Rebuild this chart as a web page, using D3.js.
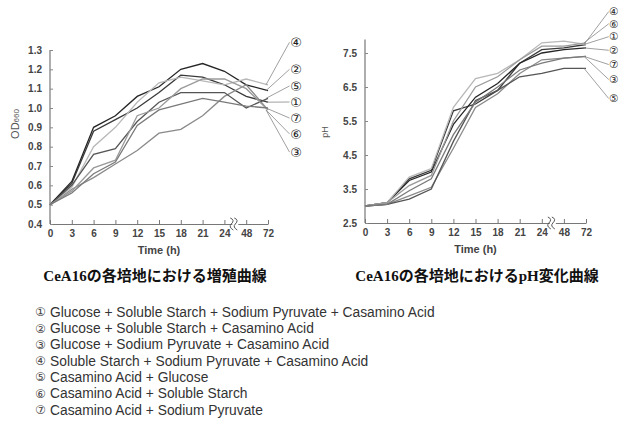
<!DOCTYPE html>
<html>
<head>
<meta charset="utf-8">
<script src="https://cdn.jsdelivr.net/npm/d3@7"></script>
<style>
  body { margin: 0; background: #fff; }
</style>
</head>
<body>
<svg id="chart" width="620" height="421"></svg>
<script>
var width = 620, height = 421;
var sansFont = '"Liberation Sans", Arial, sans-serif';
var circleFont = '"DejaVu Sans", sans-serif';

// time points (x axis categories)
var times = ['0', '3', '6', '9', '12', '15', '18', '21', '24', '48', '72'];
var seriesNames = ['①', '②', '③', '④', '⑤', '⑥', '⑦'];

// OD660 growth curves, one array per medium
var od1 = [0.50, 0.61, 0.88, 0.94, 1.00, 1.08, 1.17, 1.16, 1.12, 1.06, 1.03];
var od2 = [0.50, 0.62, 0.90, 0.96, 1.06, 1.11, 1.20, 1.23, 1.19, 1.12, 1.09];
var od3 = [0.50, 0.58, 0.64, 0.71, 0.78, 0.87, 0.89, 0.96, 1.06, 1.12, 0.99];
var od4 = [0.50, 0.59, 0.80, 0.90, 1.03, 1.13, 1.16, 1.14, 1.12, 1.15, 1.12];
var od5 = [0.50, 0.60, 0.76, 0.79, 0.93, 1.03, 1.08, 1.08, 1.08, 1.00, 1.05];
var od6 = [0.50, 0.57, 0.69, 0.73, 0.96, 1.00, 1.10, 1.15, 1.15, 1.10, 0.99];
var od7 = [0.50, 0.56, 0.66, 0.72, 0.91, 0.99, 1.02, 1.05, 1.03, 1.01, 1.00];
var odLabelAt = [1.031, 1.20, 0.772, 1.34, 1.114, 0.866, 0.948];

// pH curves
var ph1 = [3.0, 3.1, 3.80, 4.05, 5.8, 6.00, 6.4, 7.2, 7.6, 7.65, 7.75];
var ph2 = [3.0, 3.1, 3.75, 4.00, 5.4, 6.20, 6.6, 7.2, 7.5, 7.60, 7.65];
var ph3 = [3.0, 3.05, 3.30, 3.55, 4.7, 5.90, 6.3, 6.9, 7.3, 7.35, 7.40];
var ph4 = [3.0, 3.1, 3.85, 4.10, 5.9, 6.75, 6.9, 7.3, 7.8, 7.85, 7.75];
var ph5 = [3.0, 3.05, 3.20, 3.50, 4.9, 6.10, 6.4, 6.8, 6.9, 7.05, 7.05];
var ph6 = [3.0, 3.1, 3.60, 3.90, 5.5, 6.50, 6.8, 7.3, 7.7, 7.70, 7.80];
var ph7 = [3.0, 3.05, 3.45, 3.80, 5.1, 6.05, 6.5, 7.0, 7.2, 7.35, 7.40];
var phLabelAt = [7.98, 7.58, 6.72, 8.72, 6.16, 8.36, 7.16];

var odTicks = [0.4, 0.5, 0.6, 0.7, 0.8, 0.9, 1.0, 1.1, 1.2, 1.3];
var phTicks = [2.5, 3.5, 4.5, 5.5, 6.5, 7.5];

var titles = ['CeA16の各培地における増殖曲線', 'CeA16の各培地におけるpH変化曲線'];
var legendItems = [
  'Glucose + Soluble Starch + Sodium Pyruvate + Casamino Acid',
  'Glucose + Soluble Starch + Casamino Acid',
  'Glucose + Sodium Pyruvate + Casamino Acid',
  'Soluble Starch + Sodium Pyruvate + Casamino Acid',
  'Casamino Acid + Glucose',
  'Casamino Acid + Soluble Starch',
  'Casamino Acid + Sodium Pyruvate'
];

var lineColors = ['#3a3a3a', '#262626', '#8a8a8a', '#b8b8b8', '#555555', '#9a9a9a', '#7a7a7a'];

var svg = d3.select('#chart');

var drawPanel = function (opt) {
  var x = d3.scalePoint().domain(times).range([opt.x0, opt.x1]);
  var y = d3.scaleLinear().domain(opt.domain).range([opt.y0, opt.y1]);
  var g = svg.append('g');

  // axes
  var xAxis = d3.axisBottom(x).tickSize(0).tickPadding(6);
  var gx = g.append('g')
    .attr('transform', 'translate(0,' + opt.y0 + ')')
    .call(xAxis);
  gx.select('.domain').attr('stroke', '#777').attr('stroke-width', 1.2);
  gx.selectAll('.tick').append('line')
    .attr('y1', 0).attr('y2', -4).attr('stroke', '#777');
  gx.selectAll('text')
    .style('font-family', sansFont)
    .attr('font-size', 10).attr('font-weight', 'bold').attr('fill', '#444');

  var yAxis = d3.axisLeft(y).tickValues(opt.ticks).tickSize(-3).tickPadding(8)
    .tickFormat(d3.format('.1f'));
  var gy = g.append('g')
    .attr('transform', 'translate(' + opt.x0 + ',0)')
    .call(yAxis);
  gy.select('.domain').attr('stroke', '#777').attr('stroke-width', 1.2)
    .attr('d', 'M0,' + opt.y0 + 'V' + opt.y1);
  gy.selectAll('line').attr('stroke', '#888');
  gy.selectAll('text')
    .style('font-family', sansFont)
    .attr('font-size', 10).attr('font-weight', 'bold').attr('fill', '#444');

  // axis break between 24 and 48
  var bx = (x('24') + x('48')) / 2;
  g.append('rect').attr('x', bx - 3).attr('y', opt.y0 - 3).attr('width', 6).attr('height', 6)
    .attr('fill', '#fff');
  [-2, 2].forEach(function (o) {
    g.append('path')
      .attr('d', 'M' + (bx + o - 3) + ',' + (opt.y0 - 6) + 'q5,2 1,6 q-3,3 2,6')
      .attr('fill', 'none').attr('stroke', '#555').attr('stroke-width', 1);
  });

  // axis titles
  g.append('text')
    .attr('x', (opt.x0 + opt.x1) / 2).attr('y', opt.y0 + 30)
    .attr('text-anchor', 'middle').attr('font-size', 11).attr('font-weight', 'bold')
    .style('font-family', sansFont)
    .attr('fill', '#444').text('Time (h)');
  var yl = g.append('text')
    .attr('transform', 'translate(' + opt.ylabX + ',' + opt.ylabY + ') rotate(-90)')
    .attr('text-anchor', 'middle').attr('font-size', opt.ylabSize)
    .style('font-family', sansFont)
    .attr('fill', '#555');
  yl.append('tspan').text(opt.ylabel[0]);
  if (opt.ylabel[1]) {
    yl.append('tspan').attr('font-size', opt.ylabSize - 3).text(opt.ylabel[1]);
  }

  // curves
  var line = d3.line()
    .x(function (d, i) { return x(times[i]); })
    .y(function (d) { return y(d); });

  g.selectAll('path.curve')
    .data(opt.series)
    .enter()
    .append('path')
    .attr('class', 'curve')
    .attr('d', line)
    .attr('fill', 'none')
    .attr('stroke', function (d, i) { return lineColors[i]; })
    .attr('stroke-width', 1.3);

  // leader lines and circled labels
  var lx = x('72') + 28;
  opt.series.forEach(function (s, i) {
    g.append('line')
      .attr('x1', x('72') - 2).attr('y1', y(s[s.length - 1]))
      .attr('x2', lx - opt.labelSize / 2).attr('y2', y(opt.labelAt[i]))
      .attr('stroke', '#888').attr('stroke-width', 0.8);
    g.append('text')
      .attr('x', lx).attr('y', y(opt.labelAt[i]))
      .attr('dy', '0.36em').attr('text-anchor', 'middle')
      .style('font-family', circleFont)
      .attr('font-size', opt.labelSize).attr('fill', '#222')
      .text(seriesNames[i]);
  });

  // panel title
  svg.append('text')
    .attr('x', opt.titleX).attr('y', 281)
    .attr('text-anchor', 'middle')
    .style('font-family', '"Liberation Serif", "Noto Sans CJK JP", serif')
    .attr('font-size', 15).attr('font-weight', 'bold').attr('fill', '#111')
    .text(opt.title);
};

drawPanel({
  x0: 50, x1: 268, y0: 224, y1: 50,
  domain: [0.4, 1.3], ticks: odTicks,
  series: [od1, od2, od3, od4, od5, od6, od7],
  labelAt: odLabelAt, labelSize: 13,
  ylabel: ['OD', '660'], ylabX: 19, ylabY: 124, ylabSize: 11,
  title: titles[0], titleX: 155
});

drawPanel({
  x0: 365, x1: 586, y0: 223, y1: 39.4,
  domain: [2.5, 7.9], ticks: phTicks,
  series: [ph1, ph2, ph3, ph4, ph5, ph6, ph7],
  labelAt: phLabelAt, labelSize: 10.5,
  ylabel: ['pH'], ylabX: 328, ylabY: 132, ylabSize: 9,
  title: titles[1], titleX: 477
});

// legend
var legend = svg.append('g').attr('transform', 'translate(35,312)');
legend.selectAll('g')
  .data(legendItems)
  .enter()
  .append('g')
  .attr('transform', function (d, i) { return 'translate(0,' + (i * 16.3) + ')'; })
  .each(function (d, i) {
    var it = d3.select(this);
    it.append('text')
      .attr('x', 0).attr('dy', '0.35em')
      .style('font-family', circleFont)
      .attr('font-size', 12).attr('fill', '#444')
      .text(seriesNames[i]);
    it.append('text')
      .attr('x', 15).attr('dy', '0.35em')
      .style('font-family', sansFont)
      .attr('font-size', 13.8).attr('fill', '#333')
      .text(d);
  });
</script>
</body>
</html>
